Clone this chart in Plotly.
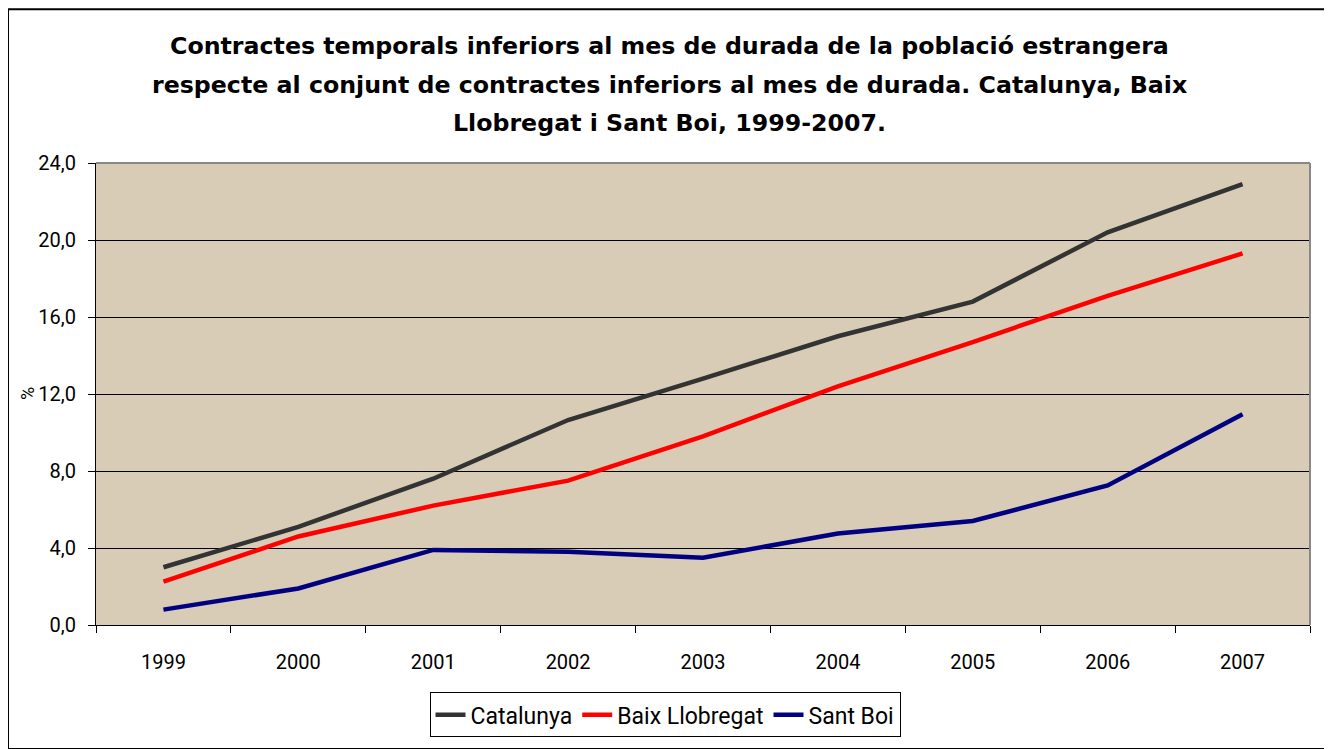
import plotly.graph_objects as go

years = ["1999", "2000", "2001", "2002", "2003", "2004", "2005", "2006", "2007"]
catalunya = [3.0, 5.1, 7.6, 10.65, 12.8, 15.0, 16.8, 20.4, 22.9]
baix_llobregat = [2.25, 4.6, 6.2, 7.5, 9.8, 12.4, 14.7, 17.1, 19.3]
sant_boi = [0.8, 1.9, 3.9, 3.8, 3.5, 4.75, 5.4, 7.25, 10.95]

title_lines = [
    "Contractes temporals inferiors al mes de durada de la població estrangera",
    "respecte al conjunt de contractes inferiors al mes de durada. Catalunya, Baix",
    "Llobregat i Sant Boi, 1999-2007.",
]

series = [("Catalunya", catalunya, "#333333"),
          ("Baix Llobregat", baix_llobregat, "#FF0000"),
          ("Sant Boi", sant_boi, "#000080")]

fig = go.Figure()
for name, vals, col in series:
    fig.add_trace(go.Scatter(x=years, y=vals, name=name, mode="lines",
                             line=dict(color=col, width=4.5)))

# page body has an 8px margin: figure coords = page coords - 8
W, H = 1324, 741
L, R, T, B = 88, 22, 155, 120
PW, PH = W - L - R, H - T - B


def px(fx):
    return (fx - L) / PW


def py(fy):
    return (H - B - fy) / PH


fig.update_layout(
    width=W, height=H,
    margin=dict(l=L, r=R, t=T, b=B),
    paper_bgcolor="white",
    plot_bgcolor="#D8CCB7",
    font=dict(family="Roboto", size=20, color="black"),
    xaxis=dict(
        type="category", tickson="boundaries", ticks="outside", ticklen=7,
        tickcolor="black", showline=True, linecolor="black", linewidth=1,
        showgrid=False, tickfont=dict(size=20), range=[-0.5, 8.5],
        ticklabelstandoff=19,
    ),
    yaxis=dict(
        range=[0, 24], dtick=4, tickformat=".1f", ticks="outside", ticklen=7,
        tickcolor="black", showline=True, linecolor="black", linewidth=1,
        showgrid=True, gridcolor="black", gridwidth=1, zeroline=False,
        tickfont=dict(size=20), ticklabelstandoff=8,
    ),
    separators=",.",
    legend=dict(orientation="h", x=px(657), xanchor="center", y=py(689), yanchor="top",
                bordercolor="black", borderwidth=1, bgcolor="white",
                font=dict(size=23), traceorder="normal"),
    showlegend=True,
)

for i, (txt, yy) in enumerate(zip(title_lines, [37, 76, 115])):
    fig.add_annotation(text="<b>%s</b>" % txt, xref="paper", yref="paper",
                       x=px(661), y=py(yy), xanchor="center", yanchor="middle",
                       showarrow=False,
                       font=dict(family="DejaVu Sans", size=23.7, color="black"))

fig.add_annotation(text="%", xref="paper", yref="paper", x=px(19), y=0.5,
                   textangle=-90, showarrow=False, xanchor="center", yanchor="middle",
                   font=dict(size=18))

# plot area top/right border (gray)
fig.add_shape(type="line", xref="paper", yref="paper", x0=0, x1=1, y0=1, y1=1,
              line=dict(color="#888888", width=2))
fig.add_shape(type="line", xref="paper", yref="paper", x0=1, x1=1, y0=0, y1=1,
              line=dict(color="#888888", width=2))
# outer chart border
fig.add_shape(type="rect", xref="paper", yref="paper",
              x0=px(0), x1=px(1322), y0=py(H + 5), y1=py(0),
              line=dict(color="black", width=2), layer="below")

fig.write_html("out.html")
